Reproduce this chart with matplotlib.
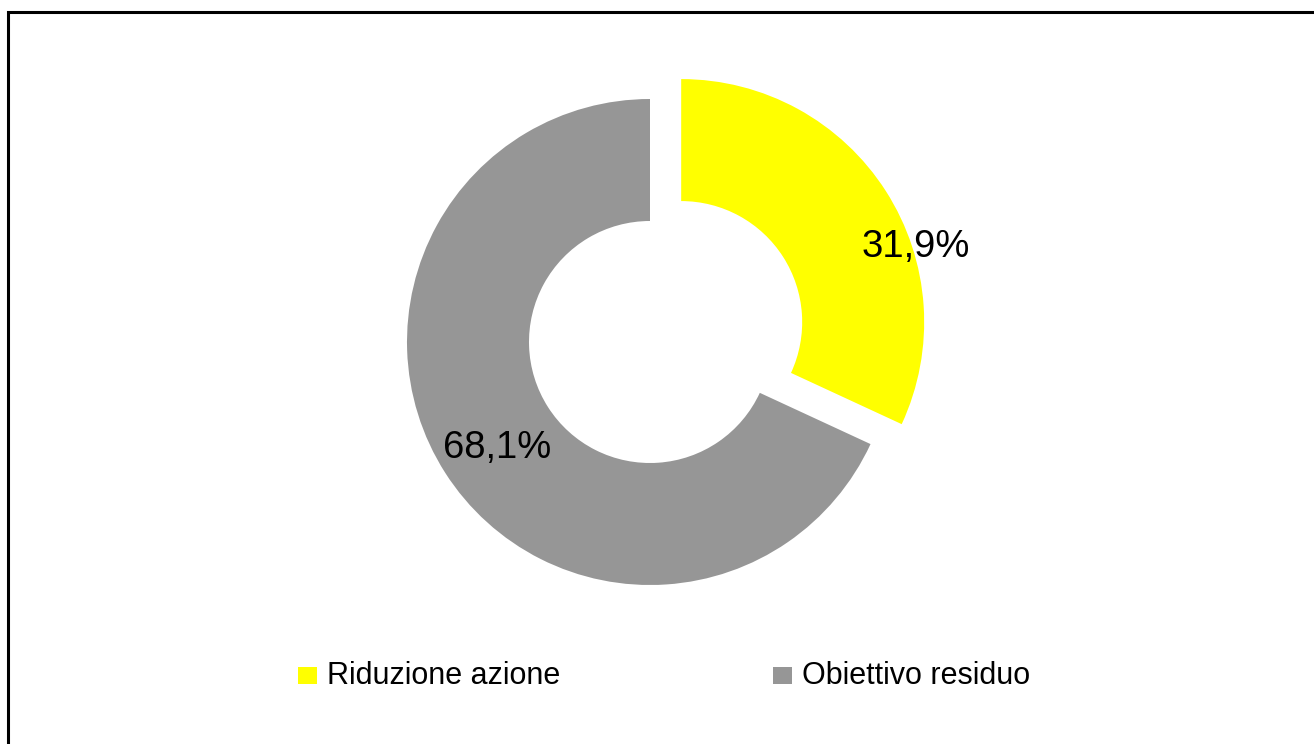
import matplotlib
matplotlib.use("Agg")
import matplotlib.pyplot as plt
from matplotlib.patches import Rectangle

plt.rcParams['font.family'] = ['Liberation Sans', 'DejaVu Sans']

categories = ["Riduzione azione", "Obiettivo residuo"]
values = [31.9, 68.1]
colors = ["#FFFF00", "#969696"]

W, H = 1314, 744
fig = plt.figure(figsize=(W / 100, H / 100), dpi=100)
ax = fig.add_axes([0, 0, 1, 1])

cx, cy = 650, H - 342
R = 243
ax.pie(values, colors=colors, startangle=90, counterclock=False,
       center=(cx, cy), radius=R, explode=[37, 0],
       wedgeprops=dict(width=122, linewidth=0), frame=True)
ax.set_xlim(0, W)
ax.set_ylim(0, H)
ax.set_aspect('equal')
ax.axis('off')

# data labels
label_pos = [(916, H - 257), (497, H - 458)]
for v, (x, y) in zip(values, label_pos):
    ax.text(x, y, f"{v:.1f}".replace('.', ',') + "%", ha='center', va='baseline',
            fontsize=27.5, color='black')

# legend
leg_sq_x = [298, 773]
for cat, col, sx in zip(categories, colors, leg_sq_x):
    ax.add_patch(Rectangle((sx, H - 684), 19, 17, facecolor=col, edgecolor='none'))
    ax.text(sx + 29, H - 684, cat, ha='left', va='baseline', fontsize=22, color='black')

# outer border (right/bottom cut off)
fig.patches.append(Rectangle((7.5 / W, -0.1), 2, (H - 12.5) / H + 0.1,
                             transform=fig.transFigure, fill=False,
                             edgecolor='black', linewidth=2.2))

fig.savefig("out.png", dpi=100, facecolor='white')
